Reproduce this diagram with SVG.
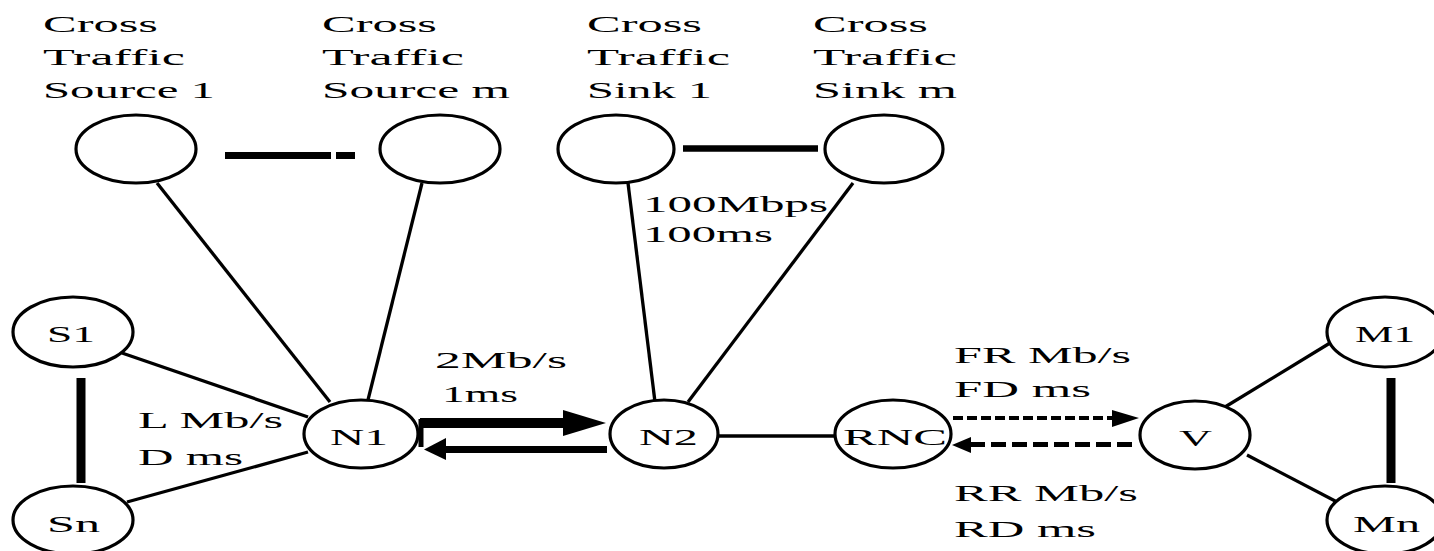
<svg xmlns="http://www.w3.org/2000/svg" width="1434" height="551" viewBox="0 0 1434 551">
  <style>
    .node { fill: #fff; stroke: #000; stroke-width: 3.2; }
    .lbl { font-family: "Liberation Serif", "Times New Roman", serif; font-size: 24px; fill: #000; }
    .link { stroke: #000; stroke-width: 3.3; fill: none; }
    .heavy { stroke: #000; fill: none; }
    .head { fill: #000; stroke: none; }
  </style>
  <rect width="1434" height="551" fill="#fff"/>

  <!-- connectors -->
  <g id="connectors">
    <line class="link" x1="157" y1="183" x2="330" y2="402"/>
    <line class="link" x1="422" y1="183" x2="368" y2="400"/>
    <line class="link" x1="628" y1="183" x2="655" y2="402"/>
    <line class="link" x1="853" y1="183" x2="688" y2="402"/>
    <line class="link" x1="122" y1="353" x2="308" y2="417"/>
    <line class="link" x1="127" y1="502" x2="308" y2="452"/>
    <line class="link" x1="718" y1="436" x2="835" y2="436" stroke-width="3"/>
    <line class="link" x1="1225" y1="407" x2="1330" y2="343"/>
    <line class="link" x1="1247" y1="455" x2="1339" y2="503"/>
    <!-- groupings of similar hosts -->
    <line class="heavy" x1="225" y1="155.5" x2="331" y2="155.5" stroke-width="7"/>
    <line class="heavy" x1="336" y1="155.5" x2="355" y2="155.5" stroke-width="7"/>
    <line class="heavy" x1="683" y1="148.5" x2="818" y2="148.5" stroke-width="6.5"/>
    <line class="heavy" x1="81" y1="378" x2="81" y2="483" stroke-width="9"/>
    <line class="heavy" x1="1391" y1="378" x2="1391" y2="483" stroke-width="9"/>
    <!-- bottleneck link N1 <-> N2 -->
    <line class="heavy" x1="421" y1="419" x2="421" y2="447" stroke-width="5"/>
    <line class="heavy" x1="420" y1="423" x2="566" y2="423" stroke-width="10"/>
    <polygon class="head" points="563,410 606,423 563,436"/>
    <line class="heavy" x1="440" y1="449.5" x2="607" y2="449.5" stroke-width="7"/>
    <polygon class="head" points="446,438 424,449.5 446,460"/>
    <!-- wireless link RNC <-> V -->
    <line class="heavy" x1="953" y1="418" x2="1114" y2="418" stroke-width="4" stroke-dasharray="10 4"/>
    <polygon class="head" points="1112,410 1139,418 1112,427"/>
    <line class="heavy" x1="970" y1="444.5" x2="1135" y2="444.5" stroke-width="5" stroke-dasharray="15 6"/>
    <polygon class="head" points="971,437 952,445 971,453"/>
  </g>

  <!-- nodes -->
  <g id="cts-source-1">
    <ellipse class="node" cx="136" cy="149" rx="60" ry="34"/>
    <text class="lbl" x="43" y="32" textLength="115" lengthAdjust="spacingAndGlyphs">Cross</text>
    <text class="lbl" x="43" y="65" textLength="142" lengthAdjust="spacingAndGlyphs">Traffic</text>
    <text class="lbl" x="43" y="98" textLength="172" lengthAdjust="spacingAndGlyphs">Source 1</text>
  </g>
  <g id="cts-source-m">
    <ellipse class="node" cx="440" cy="149" rx="60" ry="34"/>
    <text class="lbl" x="322" y="32" textLength="115" lengthAdjust="spacingAndGlyphs">Cross</text>
    <text class="lbl" x="322" y="65" textLength="142" lengthAdjust="spacingAndGlyphs">Traffic</text>
    <text class="lbl" x="322" y="98" textLength="188" lengthAdjust="spacingAndGlyphs">Source m</text>
  </g>
  <g id="cts-sink-1">
    <ellipse class="node" cx="616" cy="149" rx="58" ry="34"/>
    <text class="lbl" x="587" y="32" textLength="115" lengthAdjust="spacingAndGlyphs">Cross</text>
    <text class="lbl" x="587" y="65" textLength="143" lengthAdjust="spacingAndGlyphs">Traffic</text>
    <text class="lbl" x="587" y="98" textLength="125" lengthAdjust="spacingAndGlyphs">Sink 1</text>
  </g>
  <g id="cts-sink-m">
    <ellipse class="node" cx="884" cy="149" rx="59" ry="34"/>
    <text class="lbl" x="813" y="32" textLength="115" lengthAdjust="spacingAndGlyphs">Cross</text>
    <text class="lbl" x="813" y="65" textLength="144" lengthAdjust="spacingAndGlyphs">Traffic</text>
    <text class="lbl" x="813" y="98" textLength="144" lengthAdjust="spacingAndGlyphs">Sink m</text>
  </g>
  <g id="S1">
    <ellipse class="node" cx="73" cy="332" rx="60" ry="35"/>
    <text class="lbl" x="47" y="342" textLength="48" lengthAdjust="spacingAndGlyphs">S1</text>
  </g>
  <g id="Sn">
    <ellipse class="node" cx="73" cy="520" rx="60" ry="34"/>
    <text class="lbl" x="47" y="532" textLength="53" lengthAdjust="spacingAndGlyphs">Sn</text>
  </g>
  <g id="N1">
    <ellipse class="node" cx="361" cy="434" rx="57" ry="34"/>
    <text class="lbl" x="330" y="445" textLength="58" lengthAdjust="spacingAndGlyphs">N1</text>
  </g>
  <g id="N2">
    <ellipse class="node" cx="664" cy="434" rx="54" ry="34"/>
    <text class="lbl" x="639" y="445" textLength="59" lengthAdjust="spacingAndGlyphs">N2</text>
  </g>
  <g id="RNC">
    <ellipse class="node" cx="893" cy="434" rx="58" ry="34"/>
    <text class="lbl" x="843" y="445" textLength="104" lengthAdjust="spacingAndGlyphs">RNC</text>
  </g>
  <g id="V">
    <ellipse class="node" cx="1195" cy="435" rx="55" ry="34"/>
    <text class="lbl" x="1179" y="446" textLength="33" lengthAdjust="spacingAndGlyphs">V</text>
  </g>
  <g id="M1">
    <ellipse class="node" cx="1385" cy="332" rx="58" ry="35"/>
    <text class="lbl" x="1355" y="342" textLength="60" lengthAdjust="spacingAndGlyphs">M1</text>
  </g>
  <g id="Mn">
    <ellipse class="node" cx="1385" cy="520" rx="58" ry="34"/>
    <text class="lbl" x="1353" y="532" textLength="67" lengthAdjust="spacingAndGlyphs">Mn</text>
  </g>

  <!-- link annotations -->
  <g id="link-labels">
    <text class="lbl" x="643" y="212" textLength="185" lengthAdjust="spacingAndGlyphs">100Mbps</text>
    <text class="lbl" x="643" y="242" textLength="130" lengthAdjust="spacingAndGlyphs">100ms</text>
    <text class="lbl" x="435" y="368" textLength="132" lengthAdjust="spacingAndGlyphs">2Mb/s</text>
    <text class="lbl" x="442" y="402" textLength="76" lengthAdjust="spacingAndGlyphs">1ms</text>
    <text class="lbl" x="138" y="428" textLength="145" lengthAdjust="spacingAndGlyphs">L Mb/s</text>
    <text class="lbl" x="138" y="465" textLength="105" lengthAdjust="spacingAndGlyphs">D ms</text>
    <text class="lbl" x="954" y="363" textLength="177" lengthAdjust="spacingAndGlyphs">FR Mb/s</text>
    <text class="lbl" x="954" y="397" textLength="137" lengthAdjust="spacingAndGlyphs">FD ms</text>
    <text class="lbl" x="954" y="501" textLength="184" lengthAdjust="spacingAndGlyphs">RR Mb/s</text>
    <text class="lbl" x="954" y="537" textLength="142" lengthAdjust="spacingAndGlyphs">RD ms</text>
  </g>
</svg>
